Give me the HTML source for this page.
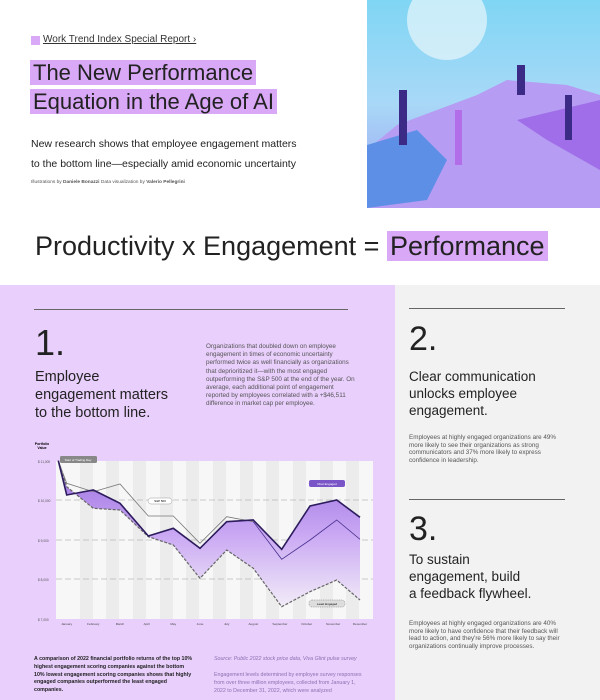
<!DOCTYPE html>
<html><head><meta charset="utf-8"><style>
body{margin:0;width:600px;height:700px;overflow:hidden;background:#fff;font-family:"Liberation Sans",sans-serif;position:relative;color:#222}
.a{position:absolute}
.hl{background:#d9a8f7}
</style></head><body>
<div class="a" style="left:31px;top:36px;width:9px;height:9px;background:#d9a8f7"></div>
<div class="a" style="left:43px;top:34px;font-size:10px;text-decoration:underline;color:#333">Work Trend Index Special Report ›</div>
<div class="a" style="left:30px;top:58px;font-size:22px;line-height:29px;color:#222;font-weight:300"><span class="hl" style="padding:0 3px">The New Performance </span><br><span class="hl" style="padding:0 3px">Equation in the Age of AI </span></div>
<div class="a" style="left:31px;top:134px;font-size:10.5px;line-height:20px;color:#222">New research shows that employee engagement matters<br>to the bottom line—especially amid economic uncertainty</div>
<div class="a" style="left:31px;top:180px;font-size:4.8px;color:#555">Illustrations by <b>Daniele Bonazzi</b> Data visualization by <b>Valerio Pellegrini</b></div>
<svg class="a" style="left:367px;top:0" width="233" height="208">
<defs><linearGradient id="sky" x1="0" y1="0" x2="0" y2="1"><stop offset="0" stop-color="#7fd6f4"/><stop offset="0.5" stop-color="#a9d8f7"/><stop offset="1" stop-color="#9a9cf0"/></linearGradient></defs>
<rect width="233" height="208" fill="url(#sky)"/>
<circle cx="80" cy="20" r="40" fill="#e8f6fb" opacity="0.7"/>
<path d="M30 125 L110 95 L140 80 L200 85 L233 95 L233 208 L0 208 L0 150 Z" fill="#b69cf2"/>
<path d="M0 145 L50 130 L80 160 L60 200 L0 208Z" fill="#5e8fe6"/>
<path d="M150 120 L233 100 L233 170 L180 140Z" fill="#9f6ee8"/>
<rect x="32" y="90" width="8" height="55" fill="#3b2a86"/>
<rect x="88" y="110" width="7" height="55" fill="#b26ee8"/>
<rect x="150" y="65" width="8" height="30" fill="#3b2a86"/>
<rect x="198" y="95" width="7" height="45" fill="#3b2a86"/>
</svg>
<div class="a" style="left:35px;top:231px;font-size:27px;color:#222;font-weight:300">Productivity x Engagement = <span class="hl" style="padding:0 3px">Performance</span></div>
<div class="a" style="left:0;top:285px;width:395px;height:415px;background:#e9cffc"></div>
<div class="a" style="left:395px;top:285px;width:205px;height:415px;background:#f2f2f2"></div>
<div class="a" style="left:34px;top:309px;width:314px;height:1px;background:#666"></div>
<div class="a" style="left:35px;top:322px;font-size:36px;font-weight:300;color:#222">1.</div>
<div class="a" style="left:35px;top:368px;font-size:14.5px;line-height:18px;color:#222">Employee<br>engagement matters<br>to the bottom line.</div>
<div class="a" style="left:206px;top:343px;width:150px;font-size:6.3px;line-height:8.2px;color:#555">Organizations that doubled down on employee engagement in times of economic uncertainty performed twice as well financially as organizations that deprioritized it—with the most engaged outperforming the S&amp;P 500 at the end of the year. On average, each additional point of engagement reported by employees correlated with a +$46,511 difference in market cap per employee.</div>
<div class="a" style="left:409px;top:308px;width:156px;height:1px;background:#666"></div>
<div class="a" style="left:409px;top:320px;font-size:34px;font-weight:300;color:#222">2.</div>
<div class="a" style="left:409px;top:368px;font-size:13.5px;line-height:17px;color:#222">Clear communication<br>unlocks employee<br>engagement.</div>
<div class="a" style="left:409px;top:434px;width:152px;font-size:6.3px;line-height:7.7px;color:#555">Employees at highly engaged organizations are 49% more likely to see their organizations as strong communicators and 37% more likely to express confidence in leadership.</div>
<div class="a" style="left:409px;top:499px;width:156px;height:1px;background:#666"></div>
<div class="a" style="left:409px;top:510px;font-size:34px;font-weight:300;color:#222">3.</div>
<div class="a" style="left:409px;top:551px;font-size:13.5px;line-height:17px;color:#222">To sustain<br>engagement, build<br>a feedback flywheel.</div>
<div class="a" style="left:409px;top:620px;width:152px;font-size:6.3px;line-height:7.7px;color:#555">Employees at highly engaged organizations are 40% more likely to have confidence that their feedback will lead to action, and they're 56% more likely to say their organizations continually improve processes.</div>
<svg class="a" style="left:0;top:440px" width="395" height="200" viewBox="0 440 395 200" font-family="Liberation Sans" font-size="3.5">
<defs>
<linearGradient id="f" x1="0" y1="0" x2="0" y2="1"><stop offset="0" stop-color="#9a6fe0"/><stop offset="0.5" stop-color="#c9a7f3"/><stop offset="1" stop-color="#f2ecf8"/></linearGradient>
</defs>
<text x="42" y="445" font-size="3.5" font-weight="bold" text-anchor="middle">Portfolio</text>
<text x="42" y="449" font-size="3.5" font-weight="bold" text-anchor="middle">Value</text>
<rect x="56" y="461" width="317" height="158" fill="#f7f7f7"/>
<g fill="#ececec"><rect x="80" y="461" width="13" height="158"/><rect x="106" y="461" width="13" height="158"/><rect x="133" y="461" width="13" height="158"/><rect x="160" y="461" width="13" height="158"/><rect x="186" y="461" width="13" height="158"/><rect x="213" y="461" width="13" height="158"/><rect x="240" y="461" width="13" height="158"/><rect x="266" y="461" width="13" height="158"/><rect x="293" y="461" width="13" height="158"/><rect x="320" y="461" width="13" height="158"/><rect x="346" y="461" width="13" height="158"/></g>
<g stroke="#999" stroke-width="0.6" stroke-dasharray="6 3"><line x1="56" y1="500" x2="373" y2="500"/><line x1="56" y1="540" x2="373" y2="540"/><line x1="56" y1="579" x2="373" y2="579"/></g>
<g fill="#555" font-size="3.2"><text x="38" y="463">$ 11,000</text><text x="38" y="502">$ 10,000</text><text x="38" y="542">$ 9,000</text><text x="38" y="581">$ 8,000</text><text x="38" y="621">$ 7,000</text></g>
<polygon fill="url(#f)" points="58.3,460.7 66.7,495 93.3,490 120,503.3 148.3,536 173.3,528.3 200,548.3 226.7,521.7 253.3,520 281.7,549.3 310,506 336.7,500 360,517.3 360,600 336.7,580 310,591.7 281.7,606.7 253.3,568.3 226.7,550 200,578.3 173.3,545 148.3,536.7 120,510 93.3,508.3 66.7,486.7"/>
<polyline fill="none" stroke="#666" stroke-width="1.2" stroke-dasharray="3 1.5" points="58.3,460.7 66.7,486.7 93.3,508.3 120,510 148.3,536.7 173.3,545 200,578.3 226.7,550 253.3,568.3 281.7,606.7 310,591.7 336.7,580 360,600"/>
<polyline fill="none" stroke="#777" stroke-width="0.8" points="58.3,460.7 66.7,483.3 93.3,491.7 120,484 148.3,516 173.3,516 200,543.3 226.7,516.7 253.3,521.7"/>
<polyline fill="none" stroke="#4a3290" stroke-width="0.8" points="253.3,521.7 281.7,559.3 310,540 336.7,520 360,539.3"/>
<polyline fill="none" stroke="#2d1c5e" stroke-width="1.6" points="58.3,460.7 66.7,495 93.3,490 120,503.3 148.3,536 173.3,528.3 200,548.3 226.7,521.7 253.3,520 281.7,549.3 310,506 336.7,500 360,517.3"/>
<rect x="60" y="456" width="37" height="7" rx="1.5" fill="#888"/><text x="78" y="460.8" fill="#fff" text-anchor="middle" font-size="3">Start of Trading Day</text>
<rect x="148" y="498" width="24" height="6" rx="3" fill="#fff" stroke="#999" stroke-width="0.5"/><text x="160" y="502" text-anchor="middle" font-size="3">S&amp;P 500</text>
<rect x="309" y="480" width="36" height="7" rx="2" fill="#7a55c8"/><text x="327" y="484.8" fill="#fff" text-anchor="middle" font-size="3">Most Engaged</text>
<rect x="309" y="600" width="36" height="7" rx="3" fill="#ddd" stroke="#777" stroke-width="0.5" stroke-dasharray="1 0.8"/><text x="327" y="604.8" text-anchor="middle" font-size="3">Least Engaged</text>
<g fill="#444" font-size="3.1" text-anchor="middle"><text x="66.7" y="625">January</text><text x="93.3" y="625">February</text><text x="120" y="625">March</text><text x="146.7" y="625">April</text><text x="173.3" y="625">May</text><text x="200" y="625">June</text><text x="226.7" y="625">July</text><text x="253.3" y="625">August</text><text x="280" y="625">September</text><text x="306.7" y="625">October</text><text x="333.3" y="625">November</text><text x="360" y="625">December</text></g>
</svg>
<div class="a" style="left:34px;top:656px;width:160px;font-size:5.3px;line-height:7.8px;font-weight:bold;color:#222">A comparison of 2022 financial portfolio returns of the top 10% highest engagement scoring companies against the bottom 10% lowest engagement scoring companies shows that highly engaged companies outperformed the least engaged companies.</div>
<div class="a" style="left:214px;top:656px;width:150px;font-size:5.3px;line-height:7.8px;color:#8a70b0"><i>Source: Public 2022 stock price data, Viva Glint pulse survey</i></div>
<div class="a" style="left:214px;top:672px;width:150px;font-size:5.3px;line-height:7.8px;color:#8a70b0">Engagement levels determined by employee survey responses from over three million employees, collected from January 1, 2022 to December 31, 2022, which were analyzed</div>
</body></html>
